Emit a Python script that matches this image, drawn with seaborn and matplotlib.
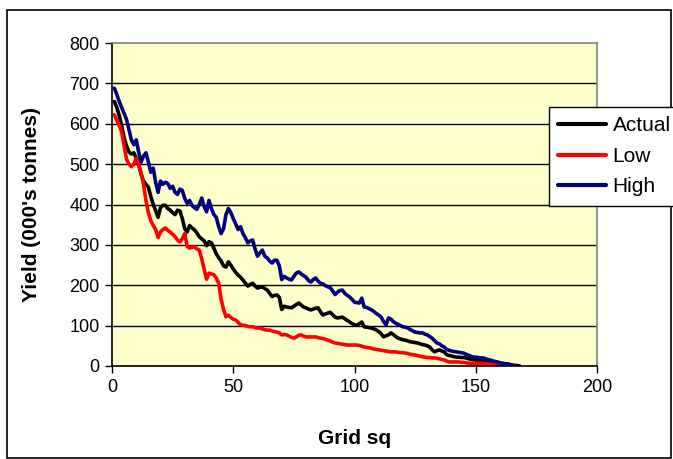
import matplotlib
matplotlib.use("Agg")
import matplotlib.pyplot as plt
import seaborn as sns
import pandas as pd
from matplotlib.patches import Rectangle

grid_sq = list(range(1, 169))

high = [688, 672, 655, 640, 625, 610, 585, 560, 548, 560, 530, 505, 520, 528, 505, 480, 490, 455, 430, 458,
        450, 455, 452, 440, 445, 430, 425, 438, 435, 415, 403, 410, 398, 392, 388, 400, 416, 395, 382, 410,
        390, 375, 368, 345, 328, 340, 375, 390, 380, 365, 352, 338, 345, 328, 318, 305, 310, 312, 290, 272,
        280, 287, 272, 268, 260, 255, 262, 262, 248, 214, 222, 218, 215, 213, 222, 230, 233, 228, 224, 220,
        212, 208, 214, 218, 210, 205, 203, 199, 196, 194, 186, 177, 183, 187, 188, 180, 175, 171, 165, 158,
        157, 156, 168, 146, 145, 142, 139, 135, 130, 126, 121, 110, 102, 119, 116, 110, 106, 103, 100, 97,
        96, 94, 90, 87, 84, 83, 82, 82, 79, 77, 73, 69, 63, 57, 55, 50, 47, 41, 39, 37,
        36, 35, 34, 33, 32, 29, 27, 24, 22, 22, 21, 20, 20, 18, 16, 15, 13, 11, 10, 8,
        7, 6, 5, 3, 2, 1, 1, 0]

actual = [655, 640, 620, 595, 565, 545, 530, 525, 528, 515, 498, 475, 458, 450, 443, 420, 400, 385, 368, 392,
          398, 398, 390, 386, 380, 375, 386, 384, 365, 340, 332, 348, 342, 337, 330, 320, 315, 310, 298, 308,
          305, 292, 278, 268, 260, 248, 245, 258, 250, 240, 232, 225, 220, 213, 205, 198, 202, 205, 198, 193,
          195, 196, 192, 188, 180, 172, 175, 176, 170, 140, 148, 146, 145, 144, 148, 152, 156, 151, 146, 144,
          141, 139, 141, 143, 144, 134, 126, 129, 131, 133, 127, 121, 119, 120, 121, 117, 113, 109, 105, 102,
          101, 105, 109, 97, 96, 95, 94, 92, 89, 85, 80, 72, 75, 77, 82, 78, 73, 69, 67, 65,
          64, 62, 60, 59, 58, 57, 55, 53, 52, 50, 47, 40, 35, 38, 40, 37, 35, 28, 26, 25,
          23, 22, 22, 21, 21, 20, 18, 17, 16, 15, 14, 13, 12, 11, 10, 9, 8, 7, 7, 6,
          6, 5, 5, 4, 2, 1, 1, 0]

low = [622, 608, 595, 580, 545, 512, 500, 494, 500, 515, 500, 478, 450, 410, 380, 360, 348, 338, 318, 332,
       338, 342, 336, 332, 326, 320, 312, 307, 315, 328, 296, 292, 294, 295, 290, 287, 265, 240, 215, 230,
       228, 226, 218, 205, 165, 140, 122, 126, 120, 116, 114, 108, 102, 101, 100, 98, 97, 97, 95, 94,
       94, 92, 90, 89, 89, 87, 85, 84, 82, 77, 78, 77, 74, 71, 69, 72, 76, 77, 74, 72,
       72, 72, 72, 72, 70, 69, 68, 66, 64, 62, 59, 57, 56, 55, 54, 53, 52, 52, 52, 52,
       52, 51, 49, 47, 46, 45, 44, 42, 41, 40, 39, 38, 37, 36, 35, 35, 35, 34, 33, 33,
       32, 31, 29, 28, 27, 26, 24, 23, 22, 21, 21, 20, 20, 19, 18, 16, 15, 12, 10, 10,
       10, 10, 10, 9, 9, 8, 7, 7, 7, 7, 7, 7, 6, 6, 5, 5, 4, 3, 3, 2,
       2, 2, 2, 2, 1, 1, 0, 0]

series_names = ["Actual", "Low", "High"]
series_colors = ["#000000", "#FF0000", "#000080"]
x_ticks = [0, 50, 100, 150, 200]
y_ticks = [0, 100, 200, 300, 400, 500, 600, 700, 800]

df = pd.concat([
    pd.DataFrame({"Grid sq": grid_sq, "Yield": actual, "Series": "Actual"}),
    pd.DataFrame({"Grid sq": grid_sq, "Yield": low, "Series": "Low"}),
    pd.DataFrame({"Grid sq": grid_sq, "Yield": high, "Series": "High"}),
], ignore_index=True)

sns.set_theme(style="white")
plt.rcParams["font.family"] = ["Liberation Sans", "DejaVu Sans"]

fig = plt.figure(figsize=(6.73, 4.59), dpi=100)
ax = fig.add_axes([112/673, 1-366/459, (597-112)/673, (366-43)/459])
ax.set_facecolor("#FFFFCC")

sns.lineplot(data=df, x="Grid sq", y="Yield", hue="Series", hue_order=series_names,
             palette=dict(zip(series_names, series_colors)), linewidth=2.6, ax=ax,
             legend=False, sort=False)

ax.set_xlim(0, 200)
ax.set_ylim(0, 800)
ax.set_xticks(x_ticks)
ax.set_yticks(y_ticks)
ax.tick_params(axis="both", labelsize=13, direction="out", length=5, width=1, color="black", pad=4,
               bottom=True, left=True, labelcolor="black")
for yv in y_ticks[1:-1]:
    ax.axhline(yv, color="black", linewidth=1, zorder=0.5)

ax.spines["left"].set_color("black")
ax.spines["bottom"].set_color("black")
ax.spines["top"].set_color("#808080")
ax.spines["right"].set_color("#808080")
for s in ax.spines.values():
    s.set_linewidth(1.2)

ax.set_xlabel("Grid sq", fontsize=15, fontweight="bold", color="black")
ax.set_ylabel("Yield (000's tonnes)", fontsize=15, fontweight="bold", color="black")
ax.xaxis.set_label_coords(0.5, (366-429)/323)
ax.yaxis.set_label_coords((41-112)/485, 0.5)

handles = [plt.Line2D([], [], color=c, linewidth=3) for c in series_colors]
leg = fig.legend(handles, series_names, loc="upper left", bbox_to_anchor=(549/673, 1-107/459),
                 frameon=True, fancybox=False, edgecolor="black", framealpha=1, fontsize=15,
                 handlelength=2.3, handletextpad=0.3, labelspacing=0.55, borderpad=0.45,
                 borderaxespad=0)
leg.get_frame().set_linewidth(1)
for t in leg.get_texts():
    t.set_color("black")

fig.patches.append(Rectangle((7/673, 0.002), 664/673, 1-10/459-0.002, transform=fig.transFigure,
                             fill=False, edgecolor="black", linewidth=1.2))

fig.savefig("out.png", dpi=100, facecolor="white")
